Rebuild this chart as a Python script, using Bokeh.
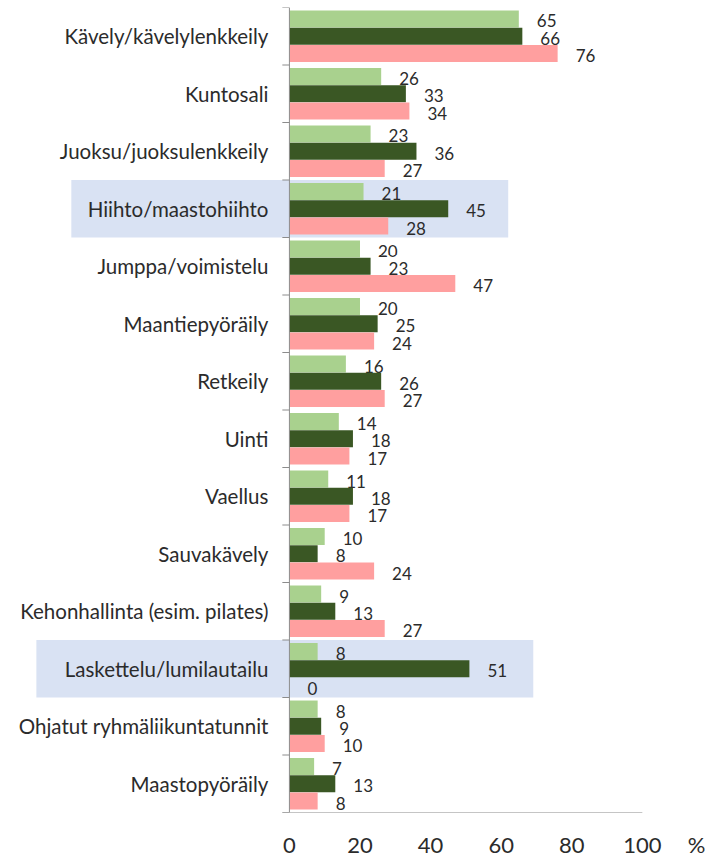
from bokeh.plotting import figure
from bokeh.models import ColumnDataSource, FactorRange, Range1d, FixedTicker
from bokeh.transform import dodge
from bokeh.core.properties import value
from bokeh.embed import file_html
from bokeh.resources import INLINE

categories = ["Kävely/kävelylenkkeily", "Kuntosali", "Juoksu/juoksulenkkeily",
              "Hiihto/maastohiihto", "Jumppa/voimistelu", "Maantiepyöräily",
              "Retkeily", "Uinti", "Vaellus", "Sauvakävely",
              "Kehonhallinta (esim. pilates)", "Laskettelu/lumilautailu",
              "Ohjatut ryhmäliikuntatunnit", "Maastopyöräily"]
series_light = [65, 26, 23, 21, 20, 20, 16, 14, 11, 10, 9, 8, 8, 7]
series_dark = [66, 33, 36, 45, 23, 25, 26, 18, 18, 8, 13, 51, 9, 13]
series_pink = [76, 34, 27, 28, 47, 24, 27, 17, 17, 24, 27, 0, 10, 8]
x_ticks = [0, 20, 40, 60, 80, 100]
unit_label = "%"
highlighted = ["Hiihto/maastohiihto", "Laskettelu/lumilautailu"]
highlight_left = [-61.8, -71.7]
highlight_right = [62.0, 69.1]

FONT = "Lato"
TXT = "#2b2b2b"
AXC = "#8c8c8c"

p = figure(width=705, height=860, output_backend="svg", toolbar_location=None,
           y_range=FactorRange(factors=list(reversed(categories)), range_padding=0),
           x_range=Range1d(-79.6, 117.9), y_axis_location=None,
           min_border_left=8, min_border_right=0, min_border_top=7,
           min_border_bottom=47)
p.outline_line_color = None
p.grid.visible = False

# highlight bands
hsrc = ColumnDataSource(dict(cat=highlighted, left=highlight_left, right=highlight_right))
p.hbar(y="cat", left="left", right="right", height=1.0, source=hsrc,
       fill_color="#D9E2F3", line_color=None)

src = ColumnDataSource(dict(cat=categories, a=series_light, b=series_dark, c=series_pink,
                            la=[str(v) for v in series_light],
                            lb=[str(v) for v in series_dark],
                            lc=[str(v) for v in series_pink]))

bh = 0.295
specs = [("a", "la", 0.3, "#A9D18E"), ("b", "lb", 0.0, "#3A5724"), ("c", "lc", -0.3, "#FF9F9F")]
for col, lab, off, color in specs:
    y = dodge("cat", off, range=p.y_range)
    p.hbar(y=y, left=0, right=col, height=bh, source=src,
           fill_color=color, line_color=None)
    p.text(x=col, y=y, text=lab, source=src, x_offset=18, y_offset=2,
           text_align="left", text_baseline="middle",
           text_font=value(FONT), text_font_size="17px", text_color=TXT)

# category labels
p.text(x=0, y="cat", text="cat", source=src, x_offset=-21,
       text_align="right", text_baseline="middle",
       text_font=value(FONT), text_font_size="20.5px", text_color=TXT)

# vertical axis line with tick marks between categories
n = len(categories)
bounds = list(range(n + 1))
p.segment(x0=0, x1=0, y0=0, y1=n, line_color=AXC, line_width=1)
p.segment(x0=[-2.0] * len(bounds), x1=[0] * len(bounds), y0=bounds, y1=bounds,
          line_color=AXC, line_width=1)
# horizontal axis line
p.segment(x0=-2.0, x1=x_ticks[-1], y0=0, y1=0, line_color=AXC, line_width=1)

ax = p.xaxis[0]
unit_pos = 116
ax.ticker = FixedTicker(ticks=x_ticks + [unit_pos])
ax.major_label_overrides = {unit_pos: unit_label}
ax.axis_line_color = None
ax.major_tick_line_color = None
ax.minor_tick_line_color = None
ax.major_label_standoff = 12
ax.major_label_text_font = FONT
ax.major_label_text_font_size = "22px"
ax.major_label_text_color = TXT

open("out.html", "w").write(file_html(p, INLINE))
